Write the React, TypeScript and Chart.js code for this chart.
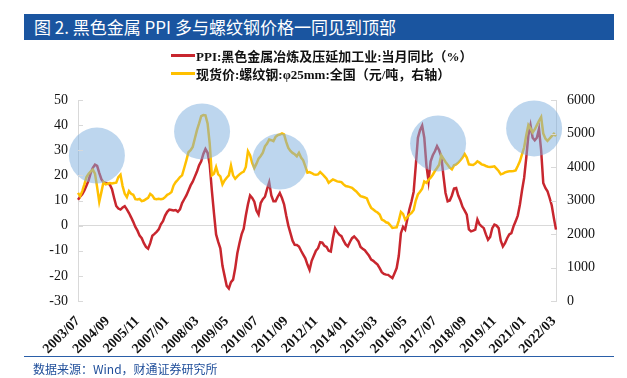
import React, { useEffect, useRef } from "react";
import { Chart, registerables } from "chart.js";

Chart.register(...registerables);

// Monthly categories 2003/07 .. 2022/04
const START_YEAR = 2003;
const START_MONTH = 7;
const N_MONTHS = 226;
const months: string[] = [];
for (let k = 0; k < N_MONTHS; k++) {
  const m = START_MONTH - 1 + k;
  const y = START_YEAR + Math.floor(m / 12);
  const mm = (m % 12) + 1;
  months.push(`${y}/${mm < 10 ? "0" + mm : mm}`);
}
const TICK_EVERY = 14;

// PPI: ferrous metal smelting & rolling, YoY (%) — left axis
const ppiYoY: number[] = [
  10.3, 11.5, 12.5, 14, 16, 18, 21, 23, 24.3, 23.8,
  21, 18.5, 17.3, 17, 16.7, 16.3, 14.5, 11, 7.8, 6.8,
  6.4, 7.2, 7.7, 6.5, 5, 3.3, 1.5, -0.5, -2, -4,
  -5, -7, -8.5, -9.2, -7, -4, -3.3, -2.5, -1.5, 0.5,
  1.8, 4, 5.5, 6.4, 6.2, 6.0, 6.2, 5.5, 6.5, 9,
  10.5, 12, 14, 16, 17.5, 19.5, 21.5, 24, 25.6, 28.5,
  30.5, 29, 24.3, 14, 5, -3.5, -6.5, -9, -16, -20,
  -24, -25, -22.5, -21.5, -17, -11, -7, -3.5, -1.2, 4,
  8.5, 12, 11, 9.5, 6, 4.4, 9, 10.5, 11.5, 14.5,
  17.2, 12, 9.7, 9.7, 11.5, 13, 11, 8.5, 4, 0,
  -3, -6, -7.6, -7.7, -8.3, -10, -11.5, -13, -15.5, -17.6,
  -14, -12, -10, -9, -6.6, -6.8, -8, -8.5, -10, -10.3,
  -5, -1, -2.5, -3.6, -4.2, -6, -7.5, -8.3, -6.5, -5,
  -4.3, -5.2, -6.3, -8.5, -9.2, -9.8, -10.9, -12, -13.5, -14,
  -14.8, -15.5, -16.9, -18.5, -19.2, -19.5, -19.6, -20.3, -20.9, -19,
  -16.9, -12, -3, -0.5, -1.6, 2.5, 6.5, 9.7, 13.5, 24,
  35, 38, 39.8, 35, 24, 17.7, 25.6, 28, 29.6, 31.6,
  30, 27.5, 20, 13, 9.7, 10, 12, 14.8, 15, 12,
  10, 7.5, 6, 4.4, -1.5, -2.3, -2, -1.6, 2.4, 0.5,
  -0.3, -1, -3.5, -5.6, -4.5, -1, 0.4, 0, -1, -6,
  -8.3, -7, -5, -3.5, -3, -0.3, 1.7, 4, 8.3, 14,
  19, 27, 36, 40, 35, 34, 35, 38.5, 30, 17,
  15, 13.7, 11, 8, 3, -1.6,
];

// Spot price: rebar φ25mm, national (yuan/ton) — right axis
const rebarPrice: number[] = [
  3230, 3130, 3280, 3480, 3700, 3800, 3870, 3920, 3800, 3400,
  2960, 3250, 3550, 3480, 3500, 3520, 3510, 3520, 3530, 3700,
  3770, 3430, 3200, 3100, 3280, 3200, 3170, 3040, 3030, 3050,
  2980, 3000, 3040, 3080, 3200, 3150, 3050, 3040, 3050, 3040,
  3050, 3100, 3170, 3200, 3250, 3450, 3550, 3620, 3700, 3750,
  3970, 4200, 4440, 4500, 4600, 4850, 5100, 5300, 5520, 5550,
  5540, 5300, 4700, 3750, 3800, 4000, 3780, 3720, 3480, 3600,
  3680, 3750, 4040, 3750, 3650, 3720, 3780, 3830, 3860, 4000,
  4470, 4350, 4120, 3970, 4100, 4250, 4330, 4430, 4620, 4700,
  4820, 4800, 4770, 4900, 4950, 4970, 5000, 4970, 4750, 4570,
  4480, 4420, 4380, 4320, 4420, 4280, 4200, 4020, 3830, 3850,
  3820, 3780, 3770, 3780, 3850, 3790, 3720, 3650, 3530, 3580,
  3630, 3600, 3570, 3560, 3550, 3480, 3430, 3420, 3400, 3380,
  3320, 3270, 3200, 3130, 3110, 3090, 3060, 2900, 2780, 2730,
  2680, 2640, 2580, 2430, 2400, 2350, 2330, 2260, 2180, 2190,
  2200, 2400, 2660, 2600, 2430, 2500, 2580, 2630, 2720, 3000,
  3180, 3260, 3350, 3570, 3530, 3620, 3680, 3770, 3880, 3970,
  4070, 4350, 4250, 4150, 4070, 3980, 3930, 4050, 4080, 4130,
  4200, 4280, 4390, 4280, 4080, 4070, 4060, 4100, 4170, 4130,
  4080, 4060, 4030, 4010, 4000, 4010, 4020, 3950, 3880, 3780,
  3800, 3840, 3860, 3870, 3870, 3880, 3900, 4030, 4170, 4380,
  4580, 4950, 5250, 5150, 5030, 5120, 5250, 5380, 5490, 5000,
  4850, 4780, 4850, 4920, 4990, 4920,
];

// Highlight circles (month index, left-axis value)
const circleIndex: number[] = [8.9, 58.4, 95.1, 169.5, 214.7];
const circleValue: number[] = [27.9, 37.5, 25.5, 32.7, 38.7];
const CIRCLE_R = 28;

const seriesNames: string[] = [
  "PPI:黑色金属冶炼及压延加工业:当月同比（%）",
  "现货价:螺纹钢:φ25mm:全国（元/吨，右轴）",
];
const RED = "#C8262E";
const GOLD = "#FFC000";
const AXIS = "#D9D9D9";
const SERIF = "'Liberation Serif', 'Times New Roman', 'Noto Sans CJK SC', serif";

const decoPlugin = {
  id: "deco",
  afterDatasetsDraw(chart: any) {
    const { ctx, scales } = chart;
    const x = scales.x;
    const y = scales.y;
    ctx.save();
    ctx.fillStyle = "rgba(123,173,221,0.5)";
    circleIndex.forEach((ci, k) => {
      ctx.beginPath();
      ctx.arc(x.getPixelForValue(ci), y.getPixelForValue(circleValue[k]), CIRCLE_R, 0, Math.PI * 2);
      ctx.fill();
    });
    ctx.restore();
  },
  afterDraw(chart: any) {
    const { ctx, scales, chartArea } = chart;
    ctx.save();
    ctx.strokeStyle = AXIS;
    ctx.lineWidth = 1;
    scales.y.ticks.forEach((t: any) => {
      const py = Math.round(scales.y.getPixelForValue(t.value)) + 0.5;
      ctx.beginPath();
      ctx.moveTo(chartArea.left, py);
      ctx.lineTo(chartArea.left + 5, py);
      ctx.stroke();
    });
    scales.y1.ticks.forEach((t: any) => {
      const py = Math.round(scales.y1.getPixelForValue(t.value)) + 0.5;
      ctx.beginPath();
      ctx.moveTo(chartArea.right, py);
      ctx.lineTo(chartArea.right - 5, py);
      ctx.stroke();
    });
    ctx.restore();
  },
};

function PlotCanvas() {
  const ref = useRef<HTMLCanvasElement | null>(null);
  useEffect(() => {
    if (!ref.current) return;
    const chart = new Chart(ref.current, {
      type: "line",
      data: {
        labels: months,
        datasets: [
          {
            label: seriesNames[0],
            data: ppiYoY,
            borderColor: RED,
            borderWidth: 2.5,
            pointRadius: 0,
            tension: 0,
            yAxisID: "y",
            order: 2,
          },
          {
            label: seriesNames[1],
            data: rebarPrice,
            borderColor: GOLD,
            borderWidth: 2.5,
            pointRadius: 0,
            tension: 0,
            yAxisID: "y1",
            order: 1,
          },
        ],
      },
      options: {
        responsive: false,
        animation: false,
        devicePixelRatio: 1,
        layout: { padding: { top: 100, left: 0, right: 0, bottom: 0 } },
        plugins: { legend: { display: false }, tooltip: { enabled: false }, title: { display: false } },
        scales: {
          x: {
            type: "category",
            offset: false,
            grid: { display: false },
            border: { display: false },
            ticks: {
              autoSkip: false,
              maxRotation: 45,
              minRotation: 45,
              padding: 4,
              color: "#111",
              font: { family: SERIF, size: 14, weight: "bold" },
              callback: (_v: any, i: number) => (i % TICK_EVERY === 0 ? months[i] : ""),
            },
            afterFit: (s: any) => {
              s.height = 77;
            },
          },
          y: {
            position: "left",
            min: -30,
            max: 50,
            ticks: {
              stepSize: 10,
              padding: 10,
              color: "#111",
              font: { family: SERIF, size: 14 },
              callback: (v: any) => String(v),
            },
            grid: {
              drawTicks: false,
              color: (c: any) => (c.tick && c.tick.value === 0 ? AXIS : "rgba(0,0,0,0)"),
            },
            border: { color: AXIS },
            afterFit: (s: any) => {
              s.width = 78;
            },
          },
          y1: {
            position: "right",
            min: 0,
            max: 6000,
            ticks: {
              stepSize: 1000,
              padding: 11,
              color: "#111",
              font: { family: SERIF, size: 14 },
              callback: (v: any) => String(v),
            },
            grid: { drawOnChartArea: false, drawTicks: false },
            border: { color: AXIS },
            afterFit: (s: any) => {
              s.width = 71;
            },
          },
        },
      },
      plugins: [decoPlugin],
    });
    return () => chart.destroy();
  }, []);
  return <canvas ref={ref} width={627} height={378} style={{ position: "absolute", left: 0, top: 0 }} />;
}

function LegendRow({ color, text, top }: { color: string; text: string; top: number }) {
  return (
    <div style={{ position: "absolute", left: 171, top, height: 18, display: "flex", alignItems: "center" }}>
      <div style={{ width: 24, height: 3, background: color, marginRight: 1 }} />
      <span style={{ fontFamily: SERIF, fontSize: 13, fontWeight: "bold", color: "#111", whiteSpace: "nowrap" }}>
        {text}
      </span>
    </div>
  );
}

export default function App() {
  return (
    <div
      style={{
        position: "absolute",
        left: 0,
        top: 0,
        width: 627,
        height: 378,
        background: "#fff",
        overflow: "hidden",
      }}
    >
      <PlotCanvas />
      <div
        style={{
          position: "absolute",
          left: 24,
          top: 14,
          width: 590,
          height: 26,
          background: "#1A55A0",
          color: "#fff",
          fontFamily: "'Noto Sans CJK SC', 'Noto Sans', sans-serif",
          fontSize: 17,
          lineHeight: "26px",
          paddingLeft: 10,
          boxSizing: "border-box",
          whiteSpace: "nowrap",
        }}
      >
        图 2. 黑色金属 PPI 多与螺纹钢价格一同见到顶部
      </div>
      <LegendRow color={RED} text={seriesNames[0]} top={46} />
      <LegendRow color={GOLD} text={seriesNames[1]} top={64} />
      <div style={{ position: "absolute", left: 24, top: 356, width: 590, height: 1, background: "#2A5EA8" }} />
      <div
        style={{
          position: "absolute",
          left: 33,
          top: 361,
          fontFamily: "'Noto Sans CJK SC', 'Noto Sans', sans-serif",
          fontSize: 12,
          lineHeight: "16px",
          color: "#1F4E9A",
          whiteSpace: "nowrap",
        }}
      >
        数据来源：Wind，财通证券研究所
      </div>
    </div>
  );
}
